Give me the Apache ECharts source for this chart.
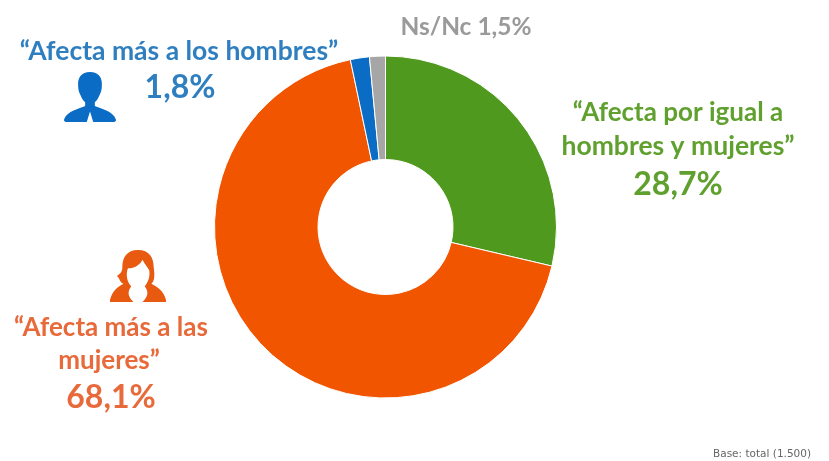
<!DOCTYPE html>
<html><head><meta charset="utf-8">
<style>html,body{margin:0;padding:0;background:#fff}#c{width:829px;height:461px}</style>
<script src="https://cdn.jsdelivr.net/npm/echarts@6/dist/echarts.min.js"></script>
</head><body><div id="c"></div>
<script>
const categories = ['Afecta por igual a hombres y mujeres','Afecta más a las mujeres','Afecta más a los hombres','Ns/Nc'];
const values = [28.7, 68.1, 1.8, 1.5];
const valueLabels = ['28,7%','68,1%','1,8%','1,5%'];
const colors = ['#4f9a1e','#f25500','#0a6cc4','#a6a6a6'];
const textColors = ['#5fa02e','#e8693a','#2f7fc0','#9a9a9a'];
const fontFamily = 'Lato, "Open Sans", sans-serif';
function txt(x,y,text,color,size,extra){
  return {type:'text',x:x,y:y,style:Object.assign({text:text,fill:color,fontFamily:fontFamily,fontWeight:'bold',fontSize:size,align:'center',verticalAlign:'middle'},extra||{}),silent:true};
}
const manIcon = 'M50 0C34 0 27 12 28 28C28 36 29 42 32 48C34 54 37 60 41 64L41 72C30 78 8 82 2 100C1 104 3 106 8 106L44 106L50 84L56 106L92 106C97 106 99 104 98 100C92 82 70 78 59 72L59 64C63 60 66 54 68 48C71 42 72 36 72 28C73 12 66 0 50 0Z';
const womanIcon = 'M50 0C30 0 22 16 22 36C22 46 18 50 12 54C18 58 16 66 24 70C14 76 4 84 0 104L0 108L42 108C30 96 32 84 38 76C30 66 28 50 32 38C44 38 54 30 58 20C62 30 68 36 70 42C72 56 68 66 62 76C68 84 70 96 58 108L100 108L100 104C96 84 84 76 74 70C80 64 80 52 78 36C78 16 70 0 50 0Z';
const icons = [
  {d:manIcon,x:64,y:72,w:52,h:50,color:'#0a6cc4'},
  {d:womanIcon,x:110,y:250,w:56,h:52,color:'#e85a10'}
];
const chart = echarts.init(document.getElementById('c'),null,{renderer:'canvas'});
chart.setOption({
  animation:false,
  backgroundColor:'#fff',
  series:[{
    type:'pie',
    center:[385.5,227],
    radius:[67.5,171],
    startAngle:90,
    clockwise:true,
    label:{show:false},
    labelLine:{show:false},
    silent:true,
    itemStyle:{borderColor:'#fff',borderWidth:1},
    data:categories.map((n,i)=>({name:n,value:values[i],itemStyle:{color:colors[i]}}))
  },{
    type:'custom',
    coordinateSystem:'none',
    silent:true,
    data:[[0]],
    renderItem:function(){
      return {type:'group',children:icons.map(ic=>({
        type:'path',
        shape:{pathData:ic.d,x:ic.x,y:ic.y,width:ic.w,height:ic.h,layout:'cover'},
        style:{fill:ic.color}
      }))};
    }
  }],
  graphic:[
    txt(466,27,categories[3]+' '+valueLabels[3],textColors[3],24.5),
    txt(179,51,'“'+categories[2]+'”',textColors[2],26.5),
    txt(180,88,valueLabels[2],textColors[2],32),
    txt(678,113,'“Afecta por igual a',textColors[0],26),
    txt(678,146,'hombres y mujeres”',textColors[0],26.5),
    txt(678,185,valueLabels[0],textColors[0],32),
    txt(111,328,'“Afecta más a las',textColors[1],26),
    txt(109,361,'mujeres”',textColors[1],26),
    txt(111,398,valueLabels[1],textColors[1],32),
    txt(713,454,'Base: total (1.500)','#666',10.5,{fontFamily:'"DejaVu Sans", sans-serif',fontWeight:'normal',align:'left'})
  ]
});
</script></body></html>
